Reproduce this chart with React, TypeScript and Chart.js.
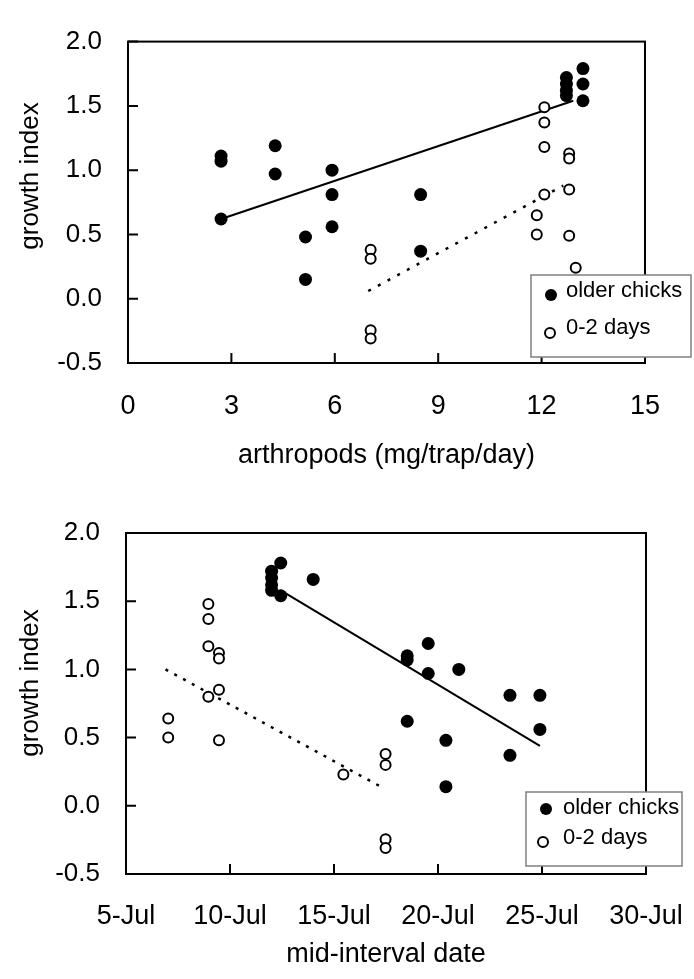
import React, { useEffect, useRef } from "react";
import { Chart, registerables } from "chart.js";

Chart.register(...registerables);

// ---------- Data: top chart (arthropods) ----------
const arthOlderX = [2.7, 2.7, 2.7, 4.27, 4.27, 5.15, 5.15, 5.92, 5.92, 5.92, 8.49, 8.49, 12.72, 12.72, 12.72, 12.72, 13.2, 13.2, 13.2];
const arthOlderY = [1.11, 1.07, 0.62, 1.19, 0.97, 0.48, 0.15, 1.0, 0.81, 0.56, 0.81, 0.37, 1.72, 1.67, 1.62, 1.58, 1.79, 1.67, 1.54];
const arthYoungX = [7.04, 7.04, 7.04, 7.04, 12.08, 12.08, 12.08, 12.08, 11.86, 11.86, 12.8, 12.8, 12.8, 12.8, 12.99];
const arthYoungY = [0.38, 0.31, -0.245, -0.31, 1.49, 1.37, 1.18, 0.81, 0.65, 0.5, 1.13, 1.09, 0.85, 0.49, 0.24];
const arthFitOlderX = [2.7, 12.92];
const arthFitOlderY = [0.62, 1.54];
const arthFitYoungX = [6.97, 12.63];
const arthFitYoungY = [0.06, 0.88];
const arthTicksX = [0, 3, 6, 9, 12, 15];

// ---------- Data: bottom chart (mid-interval date, day of July) ----------
const dateOlderX = [18.52, 18.52, 18.52, 19.53, 19.53, 20.38, 20.38, 21.0, 24.9, 24.9, 23.46, 23.46, 12.0, 12.0, 12.0, 12.0, 12.44, 14.0, 12.44];
const dateOlderY = [1.1, 1.07, 0.62, 1.19, 0.97, 0.48, 0.14, 1.0, 0.81, 0.56, 0.81, 0.37, 1.72, 1.67, 1.62, 1.58, 1.78, 1.66, 1.54];
const dateYoungX = [7.03, 7.03, 8.96, 8.96, 8.96, 8.96, 9.47, 9.47, 9.47, 9.47, 15.45, 17.48, 17.48, 17.48, 17.48];
const dateYoungY = [0.64, 0.5, 1.48, 1.37, 1.17, 0.8, 1.12, 1.08, 0.85, 0.48, 0.23, 0.38, 0.3, -0.245, -0.31];
const dateFitOlderX = [12.44, 24.9];
const dateFitOlderY = [1.58, 0.44];
const dateFitYoungX = [6.9, 17.37];
const dateFitYoungY = [1.0, 0.13];
const dateTicksX = [5, 10, 15, 20, 25, 30];

const yTicks = [-0.5, 0, 0.5, 1.0, 1.5, 2.0];
const legendLabels = ["older chicks", "0-2 days"];
const yTitleText = "growth index";

const FONT = "'Liberation Sans', Arial, sans-serif";

const zip = (xs: number[], ys: number[]) => xs.map((x, i) => ({ x, y: ys[i] }));

const framePlugin = {
  id: "frame",
  afterDatasetsDraw(chart: any) {
    const { ctx, chartArea } = chart;
    const { left, right, top, bottom } = chartArea;
    ctx.save();
    ctx.strokeStyle = "#000";
    ctx.lineWidth = 2;
    ctx.strokeRect(left, top, right - left, bottom - top);
    const xs = chart.scales.x;
    const ys = chart.scales.y;
    ctx.beginPath();
    xs.ticks.forEach((t: any) => {
      const px = xs.getPixelForValue(t.value);
      ctx.moveTo(px, bottom);
      ctx.lineTo(px, bottom - 10);
    });
    ys.ticks.forEach((t: any) => {
      const py = ys.getPixelForValue(t.value);
      ctx.moveTo(left, py);
      ctx.lineTo(left + 10, py);
    });
    ctx.stroke();
    ctx.restore();
  },
};

const yTitlePlugin = {
  id: "yTitle",
  afterDraw(chart: any, _args: any, opts: any) {
    if (!opts || opts.x == null) return;
    const { ctx } = chart;
    ctx.save();
    ctx.translate(opts.x, opts.y);
    ctx.rotate(-Math.PI / 2);
    ctx.font = `26px ${FONT}`;
    ctx.fillStyle = "#000";
    ctx.textAlign = "center";
    ctx.textBaseline = "middle";
    ctx.fillText(yTitleText, 0, 0);
    ctx.restore();
  },
};

const legendPlugin = {
  id: "boxLegend",
  afterDraw(chart: any, _args: any, opts: any) {
    if (!opts || !opts.box) return;
    const { ctx } = chart;
    const b = opts.box;
    ctx.save();
    ctx.fillStyle = "#fff";
    ctx.fillRect(b.x, b.y, b.w, b.h);
    ctx.strokeStyle = "#808080";
    ctx.lineWidth = 1.5;
    ctx.strokeRect(b.x, b.y, b.w, b.h);
    ctx.font = `22px ${FONT}`;
    ctx.textBaseline = "middle";
    ctx.textAlign = "left";
    opts.items.forEach((it: any, i: number) => {
      ctx.beginPath();
      ctx.arc(it.mx, it.my, it.filled ? 6 : 5, 0, Math.PI * 2);
      if (it.filled) {
        ctx.fillStyle = "#000";
        ctx.fill();
      } else {
        ctx.strokeStyle = "#000";
        ctx.lineWidth = 2;
        ctx.stroke();
      }
      ctx.fillStyle = "#000";
      ctx.fillText(legendLabels[i], it.tx, it.ty);
    });
    ctx.restore();
  },
};

function makeConfig(p: any) {
  return {
    type: "scatter",
    data: {
      datasets: [
        {
          label: "fit older",
          data: zip(p.fitOX, p.fitOY),
          showLine: true,
          borderColor: "#000",
          borderWidth: 2,
          pointRadius: 0,
          order: 3,
        },
        {
          label: "fit young",
          data: zip(p.fitYX, p.fitYY),
          showLine: true,
          borderColor: "#000",
          borderWidth: 2.5,
          borderDash: p.dash,
          pointRadius: 0,
          order: 4,
        },
        {
          label: legendLabels[0],
          data: zip(p.oX, p.oY),
          pointRadius: 6.5,
          pointBackgroundColor: "#000",
          pointBorderColor: "#000",
          pointBorderWidth: 0,
          order: 1,
        },
        {
          label: legendLabels[1],
          data: zip(p.yX, p.yY),
          pointRadius: 5,
          pointBackgroundColor: "#fff",
          pointBorderColor: "#000",
          pointBorderWidth: 2,
          order: 2,
        },
      ],
    },
    options: {
      responsive: false,
      animation: false,
      devicePixelRatio: 1,
      layout: { padding: p.padding },
      plugins: {
        legend: { display: false },
        tooltip: { enabled: false },
        boxLegend: p.legend,
        yTitle: p.yTitle,
      },
      scales: {
        x: {
          type: "linear",
          min: p.xTicks[0],
          max: p.xTicks[p.xTicks.length - 1],
          afterBuildTicks: (s: any) => {
            s.ticks = p.xTicks.map((v: number) => ({ value: v }));
          },
          afterFit: (s: any) => {
            s.height = p.xHeight;
            s.paddingLeft = 0;
            s.paddingRight = 0;
          },
          grid: { display: false, drawTicks: false },
          border: { display: false },
          ticks: {
            color: "#000",
            font: { family: FONT, size: 27 },
            padding: p.xTickPad,
            maxRotation: 0,
            autoSkip: false,
            callback: p.xFmt,
          },
          title: {
            display: true,
            text: p.xTitle,
            color: "#000",
            font: { family: FONT, size: 27, lineHeight: 1 },
            padding: { top: 0, bottom: p.xTitlePad },
          },
        },
        y: {
          type: "linear",
          min: -0.5,
          max: 2.0,
          afterBuildTicks: (s: any) => {
            s.ticks = yTicks.map((v) => ({ value: v }));
          },
          afterFit: (s: any) => {
            s.width = p.yWidth;
          },
          grid: { display: false, drawTicks: false },
          border: { display: false },
          ticks: {
            color: "#000",
            font: { family: FONT, size: 26 },
            padding: 26,
            autoSkip: false,
            callback: (v: any) => Number(v).toFixed(1),
          },
          title: { display: false },
        },
      },
    },
    plugins: [framePlugin, yTitlePlugin, legendPlugin],
  };
}

const topParams = {
  oX: arthOlderX, oY: arthOlderY, yX: arthYoungX, yY: arthYoungY,
  fitOX: arthFitOlderX, fitOY: arthFitOlderY, fitYX: arthFitYoungX, fitYY: arthFitYoungY,
  dash: [3, 8],
  xTicks: arthTicksX,
  xFmt: (v: any) => String(v),
  xTitle: "arthropods (mg/trap/day)",
  xTitlePad: 10.5,
  xTickPad: 27,
  padding: { left: 0, right: 49, top: 23, bottom: 0 },
  xHeight: 117,
  yWidth: 128,
  yTitle: { x: 31, y: 176 },
  legend: {
    box: { x: 531, y: 275, w: 160, h: 82 },
    items: [
      { filled: true, mx: 551, my: 295, tx: 566, ty: 291 },
      { filled: false, mx: 550, my: 333, tx: 566, ty: 328 },
    ],
  },
};

const bottomParams = {
  oX: dateOlderX, oY: dateOlderY, yX: dateYoungX, yY: dateYoungY,
  fitOX: dateFitOlderX, fitOY: dateFitOlderY, fitYX: dateFitYoungX, fitYY: dateFitYoungY,
  dash: [3, 7],
  xTicks: dateTicksX,
  xFmt: (v: any) => `${v}-Jul`,
  xTitle: "mid-interval date",
  xTitlePad: 10.5,
  xTickPad: 26,
  padding: { left: 0, right: 48, top: 43, bottom: 0 },
  xHeight: 105,
  yWidth: 126,
  yTitle: { x: 31, y: 193 },
  legend: {
    box: { x: 526, y: 302, w: 156, h: 74 },
    items: [
      { filled: true, mx: 546, my: 319, tx: 563, ty: 318 },
      { filled: false, mx: 543, my: 352, tx: 563, ty: 348 },
    ],
  },
};

function ChartCanvas({ params, top, height }: { params: any; top: number; height: number }) {
  const ref = useRef<HTMLCanvasElement | null>(null);
  useEffect(() => {
    if (!ref.current) return;
    const chart = new Chart(ref.current, makeConfig(params) as any);
    return () => chart.destroy();
  }, [params]);
  return (
    <canvas
      ref={ref}
      width={694}
      height={height}
      style={{ position: "absolute", left: 0, top, width: 694, height }}
    />
  );
}

export default function App() {
  return (
    <div
      style={{
        position: "fixed",
        left: 0,
        top: 0,
        width: 694,
        height: 979,
        background: "#fff",
        overflow: "hidden",
      }}
    >
      <ChartCanvas params={topParams} top={0} height={480} />
      <ChartCanvas params={bottomParams} top={490} height={489} />
    </div>
  );
}
